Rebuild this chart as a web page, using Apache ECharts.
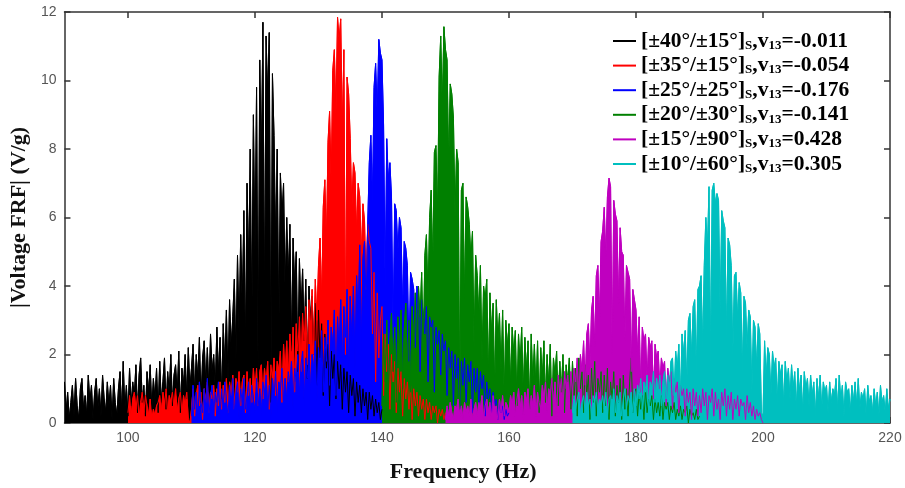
<!DOCTYPE html>
<html>
<head>
<meta charset="utf-8">
<script src="https://cdn.jsdelivr.net/npm/echarts@6/dist/echarts.min.js"></script>
<style>
  html, body { margin: 0; padding: 0; background: #fff; }
  #chart { width: 905px; height: 488px; }
</style>
</head>
<body>
<div id="chart"></div>
<script>
// legend parts
const layups = ['±40°/±15°', '±35°/±15°', '±25°/±25°', '±20°/±30°', '±15°/±90°', '±10°/±60°'];
const nu13 = ['-0.011', '-0.054', '-0.176', '-0.141', '0.428', '0.305'];
const colors = ['#000000', '#ff0000', '#0000ff', '#008000', '#bf00bf', '#00bfbf'];

// each curve: start frequency (Hz), sampled every 0.25 Hz over 50 Hz
const startFreq = [90, 100, 110, 140, 150, 170];
const freqStep = 0.25;

// tick labels
const xTicks = [100, 120, 140, 160, 180, 200, 220];

// |Voltage FRF| (V/g) values
const black = [
  1.2, 0.3, 0.9, 0.1, 0.6, 1.1, 0.2, 1.3, 0.5, 0.1, 1.0, 1.3, 0.4, 0.8, 0.2, 1.4, 0.6, 1.1, 0.1, 0.9,
  1.3, 0.4, 1.0, 0.2, 1.4, 0.7, 0.3, 1.2, 0.5, 1.1, 0.1, 1.3, 0.6, 0.2, 1.0, 1.5, 0.3, 1.8, 0.4, 1.1,
  0.2, 1.6, 0.5, 1.2, 0.8, 1.7, 0.3, 1.4, 1.9, 0.6, 1.1, 0.2, 1.5, 0.9, 1.7, 0.4, 1.3, 0.7, 1.6, 0.3,
  1.8, 0.6, 1.2, 1.9, 0.4, 1.5, 0.9, 2.0, 0.5, 1.4, 1.7, 0.8, 2.1, 0.3, 1.6, 1.1, 2.0, 0.7, 2.2, 1.0,
  1.6, 2.3, 0.8, 2.0, 1.3, 2.5, 0.6, 1.9, 2.4, 1.1, 2.2, 0.9, 2.6, 1.5, 2.0, 1.0, 2.8, 1.4, 2.5, 0.7,
  2.9, 1.6, 3.3, 1.2, 3.6, 2.2, 3.1, 4.2, 1.8, 4.9, 2.6, 5.5, 3.4, 6.2, 2.0, 7.0, 4.5, 8.0, 2.8, 9.0,
  5.0, 9.8, 1.2, 10.6, 7.5, 11.7, 3.0, 11.3, 9.5, 11.4, 0.6, 10.2, 8.4, 5.2, 8.0, 2.5, 7.3, 6.0, 7.0, 3.8,
  6.0, 4.2, 5.8, 2.1, 5.4, 4.0, 5.0, 1.5, 4.8, 3.2, 4.5, 2.4, 4.2, 1.3, 4.0, 3.0, 3.7, 2.0, 3.5, 1.1,
  3.3, 1.9, 2.9, 0.8, 2.6, 1.6, 2.3, 0.5, 2.1, 1.3, 2.0, 0.7, 1.8, 1.0, 1.7, 0.4, 1.6, 0.9, 1.5, 0.3,
  1.4, 0.8, 1.3, 0.2, 1.2, 0.6, 1.1, 0.3, 1.0, 0.5, 0.9, 0.1, 0.9, 0.4, 0.8, 0.2, 0.7, 0.3, 0.6, 0.1,
  0.4
];
const red = [
  0.3, 0.8, 0.2, 0.7, 0.9, 0.4, 0.8, 0.1, 0.6, 0.9, 0.3, 0.8, 0.5, 0.2, 0.7, 0.1, 0.4, 0.2, 0.5, 0.6,
  0.8, 0.3, 0.9, 0.5, 1.0, 0.2, 0.8, 0.6, 0.9, 0.4, 1.0, 0.3, 0.7, 0.9, 0.2, 0.8, 0.5, 0.9, 0.1, 0.0,
  0.4, 1.0, 0.2, 0.8, 1.1, 0.5, 0.9, 0.1, 1.0, 0.6, 1.2, 0.3, 0.9, 0.7, 1.1, 0.2, 1.0, 0.5, 1.2, 0.4,
  1.1, 0.6, 1.3, 0.3, 1.2, 0.8, 1.4, 0.4, 1.3, 0.9, 1.5, 0.5, 1.2, 1.4, 0.3, 1.5, 0.8, 1.3, 0.6, 1.6,
  0.9, 1.6, 0.5, 1.5, 1.7, 0.7, 1.6, 1.1, 1.8, 0.4, 1.7, 1.3, 1.9, 0.8, 1.8, 1.5, 2.1, 0.6, 2.3, 1.4,
  2.4, 1.2, 2.6, 1.8, 2.8, 0.9, 2.9, 2.1, 3.1, 1.5, 3.2, 2.4, 3.4, 1.7, 3.6, 2.8, 3.9, 2.0, 4.2, 3.0,
  4.6, 5.4, 3.5, 6.3, 7.1, 5.2, 8.2, 9.1, 7.0, 10.3, 10.9, 9.0, 11.85, 11.2, 11.8, 8.5, 10.9, 2.0, 10.1, 9.6,
  8.3, 6.2, 7.6, 7.3, 5.5, 7.0, 6.6, 4.8, 6.4, 5.9, 3.9, 5.8, 5.3, 5.1, 2.6, 4.4, 1.2, 3.8, 1.9, 3.0,
  3.4, 0.8, 2.6, 1.5, 2.3, 0.4, 2.0, 1.2, 1.8, 0.3, 1.6, 0.9, 1.5, 0.2, 1.3, 0.7, 1.2, 0.4, 1.1, 0.1,
  1.0, 0.5, 0.9, 0.2, 0.8, 0.4, 0.7, 0.1, 0.7, 0.3, 0.6, 0.1, 0.5, 0.3, 0.5, 0.0, 0.4, 0.2, 0.4, 0.1,
  0.3
];
const blue = [
  0.2, 1.1, 0.4, 0.9, 0.1, 1.2, 0.6, 0.3, 1.0, 0.5, 1.3, 0.2, 0.8, 1.1, 0.3, 0.9, 0.6, 1.2, 0.1, 1.0,
  0.4, 1.2, 0.7, 0.2, 1.1, 0.5, 1.3, 0.3, 0.9, 1.2, 0.1, 1.0, 0.6, 1.3, 0.4, 0.8, 1.2, 0.2, 1.1, 0.7,
  0.3, 1.3, 0.5, 1.0, 0.2, 1.2, 0.8, 1.4, 0.4, 1.1, 0.1, 1.3, 0.7, 1.5, 0.3, 1.2, 0.9, 1.6, 0.5, 1.3,
  0.6, 1.5, 1.0, 1.8, 0.4, 1.6, 1.2, 2.0, 0.7, 1.7, 2.1, 0.5, 1.9, 1.3, 2.3, 0.8, 2.0, 1.5, 2.4, 0.6,
  2.2, 1.4, 2.7, 0.9, 2.5, 1.8, 3.0, 1.1, 2.8, 2.2, 3.3, 0.8, 3.1, 2.0, 3.6, 1.5, 3.4, 2.5, 3.9, 1.2,
  3.7, 2.3, 4.0, 1.6, 4.3, 3.0, 5.2, 2.1, 4.8, 5.3, 3.5, 5.8, 7.6, 8.4, 6.5, 9.8, 10.5, 9.0, 11.2, 10.8,
  10.6, 8.7, 4.0, 8.3, 7.1, 7.6, 6.6, 2.5, 6.4, 6.2, 5.0, 6.0, 5.7, 3.2, 5.3, 5.1, 4.6, 1.8, 4.4, 4.2,
  3.9, 2.2, 4.0, 3.6, 1.5, 3.6, 3.2, 2.6, 3.4, 1.2, 3.1, 2.8, 3.0, 0.9, 2.8, 2.3, 2.7, 1.4, 2.6, 2.1,
  2.4, 0.8, 2.2, 1.6, 2.1, 0.5, 2.0, 1.3, 1.9, 0.4, 1.8, 1.1, 1.9, 0.6, 1.7, 1.2, 1.8, 0.3, 1.6, 0.9,
  1.6, 0.5, 1.5, 1.0, 1.4, 0.2, 1.2, 0.7, 1.0, 0.3, 0.9, 0.5, 0.7, 0.1, 0.6, 0.3, 0.5, 0.1, 0.4, 0.2,
  0.3
];
const green = [
  0.5, 2.6, 1.2, 3.0, 0.8, 2.4, 3.2, 1.5, 2.8, 0.6, 3.1, 2.0, 3.3, 1.0, 2.7, 3.5, 1.4, 3.0, 0.9, 3.4,
  2.2, 3.8, 1.6, 4.0, 3.1, 4.4, 2.0, 4.9, 5.5, 3.6, 6.0, 6.8, 4.5, 7.9, 8.1, 6.0, 10.1, 11.3, 9.2, 11.57,
  10.9, 10.6, 7.5, 9.9, 9.6, 8.9, 6.0, 8.0, 7.6, 0.4, 6.8, 7.0, 3.5, 6.6, 6.3, 5.8, 4.8, 5.6, 2.2, 4.9,
  4.3, 3.1, 4.6, 1.8, 4.0, 3.6, 4.2, 1.2, 3.8, 2.6, 3.5, 0.9, 3.6, 2.4, 3.2, 1.5, 3.3, 0.7, 3.0, 2.2,
  2.9, 1.0, 2.8, 2.0, 2.7, 0.5, 2.6, 1.7, 2.8, 0.8, 2.5, 1.5, 2.4, 0.4, 2.6, 1.2, 2.3, 0.9, 2.4, 0.3,
  2.2, 1.3, 2.4, 0.6, 2.0, 1.1, 2.3, 0.2, 1.9, 1.4, 2.1, 0.5, 1.8, 0.9, 2.0, 0.3, 1.7, 1.2, 1.9, 0.4,
  1.8, 0.7, 1.6, 0.2, 1.9, 1.0, 1.5, 0.3, 1.7, 0.8, 1.4, 0.1, 1.6, 0.6, 1.8, 0.2, 1.3, 0.9, 1.5, 0.3,
  1.4, 0.5, 1.6, 0.1, 1.2, 0.7, 1.5, 0.2, 1.1, 0.6, 1.3, 0.1, 1.4, 0.4, 1.0, 0.2, 1.2, 1.9, 0.3, 0.9,
  1.0, 0.2, 0.9, 0.4, 0.8, 0.1, 1.0, 0.3, 0.7, 0.5, 0.8, 0.1, 0.7, 0.3, 0.6, 0.2, 0.8, 0.1, 0.6, 0.4,
  0.6, 0.1, 0.5, 0.3, 0.6, 0.1, 0.4, 0.2, 0.5, 0.1, 0.4, 0.3, 0.5, 0.0, 0.4, 0.2, 0.3, 0.1, 0.4, 0.1,
  0.2
];
const magenta = [
  0.1, 0.5, 0.2, 0.6, 0.3, 0.1, 0.5, 0.4, 0.7, 0.2, 0.5, 0.1, 0.6, 0.3, 0.5, 0.2, 0.7, 0.1, 0.4, 0.6,
  0.2, 0.6, 0.4, 0.8, 0.1, 0.5, 0.7, 0.3, 0.6, 0.2, 0.8, 0.4, 0.5, 0.1, 0.7, 0.3, 0.8, 0.2, 0.6, 0.5,
  0.3, 0.8, 0.5, 0.9, 0.2, 0.7, 1.0, 0.4, 0.8, 0.1, 0.9, 0.6, 1.0, 0.3, 0.8, 0.5, 1.1, 0.2, 0.9, 0.6,
  0.4, 1.1, 0.7, 1.2, 0.3, 1.0, 0.8, 1.3, 0.5, 1.2, 0.2, 1.4, 0.9, 1.3, 0.4, 1.5, 1.0, 1.4, 0.6, 1.5,
  0.8, 1.6, 1.2, 1.9, 0.7, 2.0, 1.5, 2.4, 1.1, 2.6, 2.9, 1.6, 3.3, 3.7, 2.2, 4.3, 4.6, 3.0, 5.3, 5.6,
  6.3, 4.8, 6.6, 7.15, 6.9, 2.0, 6.5, 6.1, 5.9, 3.5, 5.7, 5.0, 4.9, 2.4, 4.6, 4.4, 4.2, 1.5, 3.9, 3.6,
  3.3, 2.0, 3.1, 0.9, 2.8, 2.4, 2.6, 1.2, 2.5, 2.2, 2.4, 0.7, 2.3, 1.9, 2.1, 1.0, 1.9, 1.6, 1.8, 0.5,
  1.6, 1.2, 1.5, 0.4, 1.3, 0.9, 1.2, 0.3, 1.1, 0.8, 1.0, 0.2, 1.0, 0.6, 0.9, 0.1, 1.0, 0.5, 0.9, 0.2,
  0.8, 0.3, 1.0, 0.5, 0.9, 0.1, 0.8, 0.6, 1.0, 0.2, 0.9, 0.4, 0.7, 0.1, 0.9, 0.5, 1.0, 0.2, 0.8, 0.4,
  0.9, 0.1, 0.7, 0.4, 0.8, 0.2, 0.7, 0.5, 0.6, 0.1, 0.8, 0.3, 0.6, 0.2, 0.5, 0.1, 0.4, 0.2, 0.3, 0.1,
  0.0
];
const cyan = [
  0.3, 0.8, 0.4, 0.7, 0.9, 0.2, 0.6, 0.8, 0.3, 0.9, 0.5, 0.7, 0.2, 0.8, 0.6, 0.9, 0.3, 0.7, 0.5, 0.8,
  0.4, 0.9, 0.2, 0.7, 0.8, 0.5, 1.0, 0.3, 0.8, 0.6, 0.9, 0.2, 0.7, 1.0, 0.4, 0.8, 0.6, 0.9, 0.3, 1.0,
  0.5, 1.1, 0.7, 1.3, 0.4, 1.2, 0.9, 1.4, 0.3, 1.2, 1.0, 1.5, 0.6, 1.3, 0.8, 1.4, 0.5, 1.2, 1.5, 0.7,
  1.4, 0.9, 1.8, 1.9, 0.8, 2.1, 1.6, 2.3, 0.7, 2.6, 2.0, 2.7, 1.1, 3.0, 3.2, 1.9, 3.4, 3.6, 1.5, 3.9,
  4.0, 4.3, 2.2, 4.6, 6.0, 5.1, 6.9, 1.8, 6.8, 7.0, 6.4, 6.7, 6.5, 3.2, 6.2, 5.9, 5.7, 2.5, 5.4, 5.2,
  4.6, 2.0, 4.3, 4.4, 3.0, 4.1, 3.8, 1.5, 3.7, 3.5, 2.2, 3.3, 3.1, 0.9, 3.0, 2.8, 1.6, 2.9, 2.6, 0.3,
  0.2, 2.4, 1.3, 2.2, 2.0, 0.8, 2.1, 1.6, 1.9, 0.6, 1.8, 1.4, 1.7, 0.5, 1.8, 1.2, 1.6, 0.7, 1.7, 1.0,
  1.5, 0.4, 1.6, 0.9, 1.4, 0.3, 1.5, 1.0, 1.3, 0.5, 1.4, 0.8, 1.2, 0.2, 1.3, 0.7, 1.4, 0.4, 1.2, 0.9,
  1.1, 0.3, 1.2, 0.6, 1.0, 0.8, 1.3, 0.4, 1.4, 0.7, 1.1, 0.2, 1.2, 0.9, 1.0, 0.3, 1.1, 0.6, 1.2, 0.5,
  1.3, 0.4, 0.9, 0.7, 1.0, 0.2, 1.1, 0.6, 0.8, 0.3, 1.0, 0.5, 0.9, 0.2, 1.1, 0.6, 0.8, 0.3, 1.0, 0.4,
  0.7
];

const curves = [black, red, blue, green, magenta, cyan];

const serif = '"Liberation Serif", "Times New Roman", serif';
const sans = '"Liberation Sans", Arial, sans-serif';

const chart = echarts.init(document.getElementById('chart'));

const toPairs = (vals, f0) => vals.map((v, i) => [f0 + i * freqStep, v]);

// dense spectra look like solid mountains: fill under each trace,
// then draw all the traces again on top so overlapping noise still interleaves
const fills = curves.map((vals, k) => ({
  name: layups[k],
  type: 'line',
  data: toPairs(vals, startFreq[k]),
  showSymbol: false,
  symbol: 'none',
  lineStyle: { color: colors[k], width: 1 },
  areaStyle: { color: colors[k], opacity: 1, origin: 'start' },
  itemStyle: { color: colors[k] },
  z: 2 + k,
}));
const traces = curves.map((vals, k) => ({
  name: layups[k],
  type: 'line',
  data: toPairs(vals, startFreq[k]),
  showSymbol: false,
  symbol: 'none',
  lineStyle: { color: colors[k], width: 1 },
  itemStyle: { color: colors[k] },
  z: 10 + k,
}));

const axisLineStyle = { color: '#333', width: 1.5 };

chart.setOption({
  animation: false,
  grid: { left: 56, right: 15, top: 12, bottom: 60 },
  legend: {
    orient: 'vertical',
    left: 608,
    top: 25,
    icon: 'rect',
    itemWidth: 23,
    itemHeight: 2,
    itemGap: 2.6,
    data: layups,
    formatter: (name) => {
      const k = layups.indexOf(name);
      return '{m|[' + name + ']}{s|S}{m|,v}{s|13}{m|=' + nu13[k] + '}';
    },
    textStyle: {
      rich: {
        m: { fontFamily: serif, fontWeight: 'bold', fontSize: 21.5, color: '#000', lineHeight: 22 },
        s: { fontFamily: serif, fontWeight: 'bold', fontSize: 13, color: '#000', lineHeight: 12, verticalAlign: 'bottom' },
      },
    },
  },
  xAxis: [
    {
      type: 'value',
      min: 90,
      max: 220,
      name: 'Frequency (Hz)',
      nameLocation: 'middle',
      nameGap: 38,
      nameTextStyle: { fontFamily: serif, fontWeight: 'bold', fontSize: 22, color: '#111', padding: [0, 28, 0, 0] },
      axisLine: { show: true, onZero: false, lineStyle: axisLineStyle },
      axisTick: { inside: true, length: 6, customValues: xTicks, lineStyle: axisLineStyle },
      axisLabel: { customValues: xTicks, fontFamily: sans, fontSize: 14, color: '#555', margin: 8 },
      splitLine: { show: false },
    },
    {
      type: 'value',
      position: 'top',
      min: 90,
      max: 220,
      axisLine: { show: true, onZero: false, lineStyle: axisLineStyle },
      axisTick: { inside: true, length: 6, customValues: xTicks, lineStyle: axisLineStyle },
      axisLabel: { show: false },
      splitLine: { show: false },
    },
  ],
  yAxis: [
    {
      type: 'value',
      min: 0,
      max: 12,
      interval: 2,
      name: '|Voltage FRF| (V/g)',
      nameLocation: 'middle',
      nameGap: 30,
      nameTextStyle: { fontFamily: serif, fontWeight: 'bold', fontSize: 22, color: '#111' },
      axisLine: { show: true, onZero: false, lineStyle: axisLineStyle },
      axisTick: { show: true, inside: true, length: 6, lineStyle: axisLineStyle },
      axisLabel: { fontFamily: sans, fontSize: 14, color: '#555', margin: 8 },
      splitLine: { show: false },
    },
    {
      type: 'value',
      position: 'right',
      min: 0,
      max: 12,
      interval: 2,
      axisLine: { show: true, onZero: false, lineStyle: axisLineStyle },
      axisTick: { show: true, inside: true, length: 6, lineStyle: axisLineStyle },
      axisLabel: { show: false },
      splitLine: { show: false },
    },
  ],
  series: fills.concat(traces),
});
</script>
</body>
</html>
